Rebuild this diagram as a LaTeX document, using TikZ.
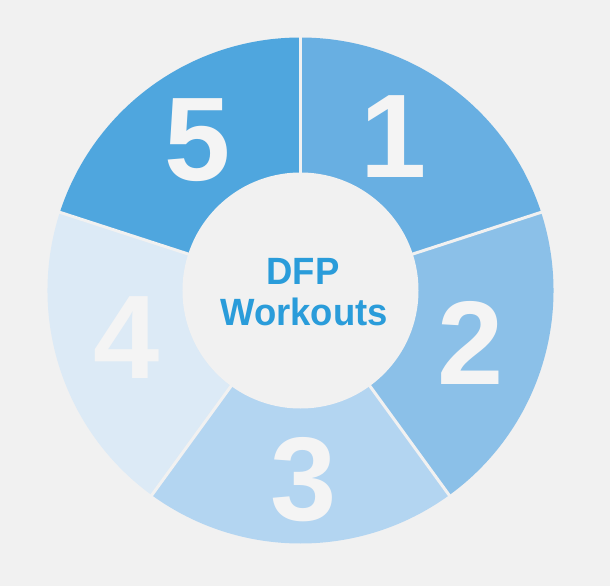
\documentclass[tikz,border=0pt]{standalone}
\usepackage{fontspec}
\setmainfont{Liberation Sans}
\definecolor{bgc}{HTML}{F1F1F1}
\definecolor{segA}{HTML}{68AFE2}
\definecolor{segB}{HTML}{8BC0E8}
\definecolor{segC}{HTML}{B3D5F1}
\definecolor{segD}{HTML}{DCEAF6}
\definecolor{segE}{HTML}{4FA6DE}
\definecolor{titleblue}{HTML}{2A9CDA}
\definecolor{digitc}{HTML}{F4F4F4}
\tikzset{
  digit/.style={font=\bfseries\fontsize{119}{119}\selectfont, text=digitc, anchor=base, inner sep=0pt},
  title/.style={font=\bfseries\fontsize{38}{40}\selectfont, text=titleblue, anchor=base, inner sep=0pt, xscale=0.96, transform shape},
  divider/.style={draw=bgc, line width=3pt}
}
\begin{document}
\begin{tikzpicture}[x=1pt,y=1pt]
\fill[bgc] (-300.5,-295.5) rectangle (309.5,290.5);
\useasboundingbox (-300.5,-295.5) rectangle (309.5,290.5);
\def\R{253}
\coordinate (c) at (0,0);
% sectors
\fill[segA] (c) -- (90:\R) arc[start angle=90,end angle=18,radius=\R] -- cycle;
\fill[segB] (c) -- (18:\R) arc[start angle=18,end angle=-54,radius=\R] -- cycle;
\fill[segC] (c) -- (-54:\R) arc[start angle=-54,end angle=-126,radius=\R] -- cycle;
\fill[segD] (c) -- (-126:\R) arc[start angle=-126,end angle=-198,radius=\R] -- cycle;
\fill[segE] (c) -- (162:\R) arc[start angle=162,end angle=90,radius=\R] -- cycle;
% dividers
\foreach \a in {90,18,-54,-126,162}{
  \coordinate (o\a) at (\a:\R+2);
  \draw[divider] (c) -- (o\a);
}
% inner circle
\node[circle, fill=bgc, minimum size=236pt, inner sep=0pt] (hub) at (c) {};
% digits
\node[digit] (n1) at (93.5,112.5) {1};
\node[digit] (n2) at (170,-93.5) {2};
\node[digit] (n3) at (3,-229.5) {3};
\node[digit] (n4) at (-173.5,-87.5) {4};
\node[digit] (n5) at (-102.5,109.5) {5};
% title
\node[title] (t1) at (2.5,5.5) {DFP};
\node[title] (t2) at (3.5,-34.5) {Workouts};
\end{tikzpicture}
\end{document}
